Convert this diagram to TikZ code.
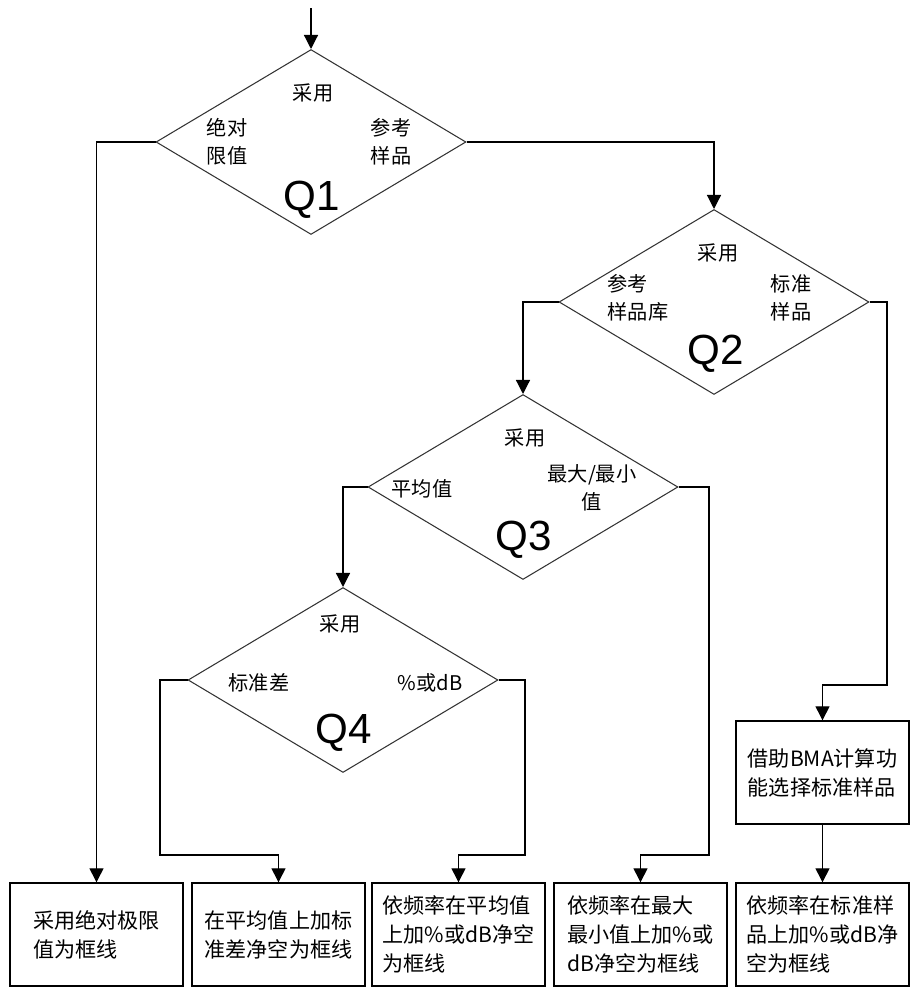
\documentclass[tikz,border=0pt]{standalone}
\usepackage{fontspec}
\setmainfont{Noto Sans CJK SC}
\newfontfamily\qfont{Liberation Sans}
\usetikzlibrary{shapes.geometric,arrows.meta}

\begin{document}
\begin{tikzpicture}[x=0.02cm, y=-0.02cm]
    \tikzset{
      dec/.style={draw=black!80, line width=0.6pt, diamond, inner sep=0pt,
                  minimum width=6.2cm, minimum height=3.7cm},
      res/.style={draw, line width=0.8pt, rectangle, minimum width=3.46cm,
                  minimum height=2.06cm, align=left,
                  font=\fontsize{12}{16.5}\selectfont},
      lbl/.style={align=center, inner sep=0pt, font=\fontsize{11.5}{16}\selectfont},
      tag/.style={inner sep=0pt, font=\qfont\fontsize{24}{28}\selectfont},
      wire/.style={line width=0.7pt},
      arr/.style={wire, -{Triangle[width=8pt,length=8pt]}}
    }
    \useasboundingbox (0,0) rectangle (910,987);
    % Q1 : absolute limit or reference sample
    \node[dec] (q1) at (311,142) {};
    \node[lbl] (q1use) at (313,93) {采用};
    \node[lbl] (q1l) at (227,142) {绝对\\限值};
    \node[lbl] (q1r) at (391,142) {参考\\样品};
    \node[tag] (q1tag) at (312,200) {Q1};
    % Q2 : sample library or standard sample
    \node[dec] (q2) at (714,302) {};
    \node[lbl] (q2use) at (718,253) {采用};
    \node[lbl, align=left] (q2l) at (638,298) {参考\\样品库};
    \node[lbl] (q2r) at (791,298) {标准\\样品};
    \node[tag] (q2tag) at (716,354) {Q2};
    % Q3 : mean or max/min
    \node[dec] (q3) at (523,487) {};
    \node[lbl] (q3use) at (525,438) {采用};
    \node[lbl] (q3l) at (422,489) {平均值};
    \node[lbl] (q3r) at (592,488) {最大/最小\\值};
    \node[tag] (q3tag) at (524,540) {Q3};
    % Q4 : standard deviation or % / dB
    \node[dec] (q4) at (343,680) {};
    \node[lbl] (q4use) at (340,624) {采用};
    \node[lbl] (q4l) at (259,683) {标准差};
    \node[lbl] (q4r) at (430,683) {\%或dB};
    \node[tag] (q4tag) at (344,733) {Q4};
    % result boxes
    \node[res] (bma) at (822.5,772.5) {借助BMA计算功\\能选择标准样品};
    \node[res] (b1) at (96.5,934.5) {采用绝对极限\\值为框线};
    \node[res] (b2) at (278.5,934.5) {在平均值上加标\\准差净空为框线};
    \node[res] (b3) at (458.5,934.5) {依频率在平均值\\上加\%或dB净空\\为框线};
    \node[res] (b4) at (640.5,934.5) {依频率在最大\\最小值上加\%或\\dB净空为框线};
    \node[res] (b5) at (822.5,934.5) {依频率在标准样\\品上加\%或dB净\\空为框线};
    % connectors
    \coordinate (start) at (311,8);
    \coordinate (q2out) at (887,302);
    \coordinate (bmain) at (822.5,685);
    \coordinate (q3out) at (709,487);
    \coordinate (b4in) at (640.5,855);
    \coordinate (q4lout) at (160,680);
    \coordinate (b2in) at (278.5,855);
    \coordinate (q4rout) at (525,680);
    \coordinate (b3in) at (458.5,855);
    \draw[arr] (start) -- (q1.north);
    \draw[arr] (q1.west) -| (b1.north);
    \draw[arr] (q1.east) -| (q2.north);
    \draw[arr] (q2.west) -| (q3.north);
    \draw[arr] (q2.east) -- (q2out) |- (bmain) -- (bma.north);
    \draw[arr] (bma.south) -- (b5.north);
    \draw[arr] (q3.west) -| (q4.north);
    \draw[arr] (q3.east) -- (q3out) |- (b4in) -- (b4.north);
    \draw[arr] (q4.west) -- (q4lout) |- (b2in) -- (b2.north);
    \draw[arr] (q4.east) -- (q4rout) |- (b3in) -- (b3.north);
  \end{tikzpicture}
\end{document}
